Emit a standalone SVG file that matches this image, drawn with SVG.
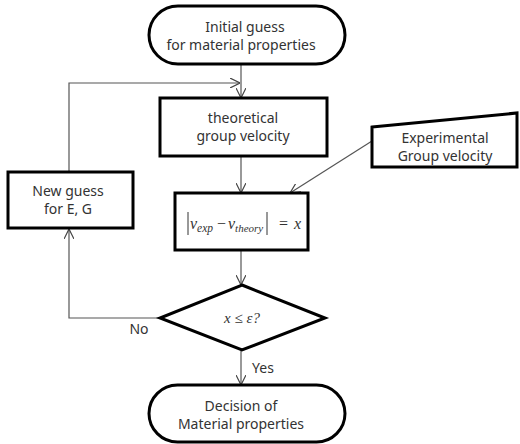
<svg xmlns="http://www.w3.org/2000/svg" width="520" height="444" viewBox="0 0 520 444">
<defs>
<marker id="arr" viewBox="0 0 10 10" refX="10" refY="5" markerWidth="10" markerHeight="10" markerUnits="userSpaceOnUse" orient="auto">
<path d="M0,0 L10,5 L0,10" fill="none" stroke="#444" stroke-width="1.2"/>
</marker>
<style>
.sh{fill:#fff;stroke:#000;stroke-width:3}
.t{font-family:"Noto Sans","Open Sans",sans-serif;font-size:14px;fill:#333;text-anchor:middle}
.m{font-family:"Liberation Serif",serif;font-style:italic;fill:#333}
.c{fill:none;stroke:#555;stroke-width:1.2}
</style>
</defs>
<rect width="520" height="444" fill="#fff"/>
<g id="connectors">
<line class="c" x1="241" y1="64" x2="241" y2="98" marker-end="url(#arr)"/>
<polyline class="c" points="69,172 69,83 240,83" marker-end="url(#arr)"/>
<line class="c" x1="241" y1="156" x2="241" y2="193" marker-end="url(#arr)"/>
<line class="c" x1="372" y1="141" x2="290" y2="193" marker-end="url(#arr)"/>
<line class="c" x1="241" y1="250" x2="241" y2="285" marker-end="url(#arr)"/>
<polyline class="c" points="160,318 69,318 69,229" marker-end="url(#arr)"/>
<line class="c" x1="241" y1="351" x2="241" y2="385" marker-end="url(#arr)"/>
<text class="t" x="139" y="334">No</text>
<text class="t" x="263" y="373">Yes</text>
</g>
<g id="start">
<rect class="sh" x="149" y="6" width="196" height="58" rx="29"/>
<text class="t" x="245" y="32">Initial  guess</text>
<text class="t" x="241" y="50">for material  properties</text>
</g>
<g id="theoretical">
<rect class="sh" x="160" y="98" width="167" height="58"/>
<text class="t" x="243" y="123">theoretical</text>
<text class="t" x="243" y="141">group velocity</text>
</g>
<g id="experimental">
<polygon class="sh" points="372,127 517,113 517,167 372,167"/>
<text class="t" x="445" y="143">Experimental</text>
<text class="t" x="445" y="161">Group velocity</text>
</g>
<g id="newguess">
<rect class="sh" x="8" y="172" width="125" height="56"/>
<text class="t" x="68" y="196">New guess</text>
<text class="t" x="68" y="214">for E, G</text>
</g>
<g id="formula">
<rect class="sh" x="175" y="193" width="133" height="57"/>
<line x1="188" y1="212" x2="188" y2="235" stroke="#333" stroke-width="1"/>
<line x1="267" y1="212" x2="267" y2="235" stroke="#333" stroke-width="1"/>
<text class="m" x="190" y="229" font-size="16">v<tspan font-size="11.5" dy="3">exp</tspan></text>
<text x="217" y="229" font-family="Liberation Serif,serif" font-size="16" fill="#333">−</text>
<text class="m" x="228" y="229" font-size="16">v<tspan font-size="11" dy="3">theory</tspan></text>
<text x="279" y="229" font-family="Liberation Serif,serif" font-size="16" fill="#333">=</text>
<text class="m" x="294" y="229" font-size="16">x</text>
</g>
<g id="decision">
<polygon class="sh" points="242,285 325,318 242,350 160,318"/>
<text class="m" x="242" y="323" font-size="15" text-anchor="middle">x <tspan font-style="normal">≤</tspan> ε?</text>
</g>
<g id="end">
<rect class="sh" x="149" y="385" width="196" height="57" rx="28.5"/>
<text class="t" x="241" y="411">Decision  of</text>
<text class="t" x="241" y="429">Material  properties</text>
</g>
</svg>
